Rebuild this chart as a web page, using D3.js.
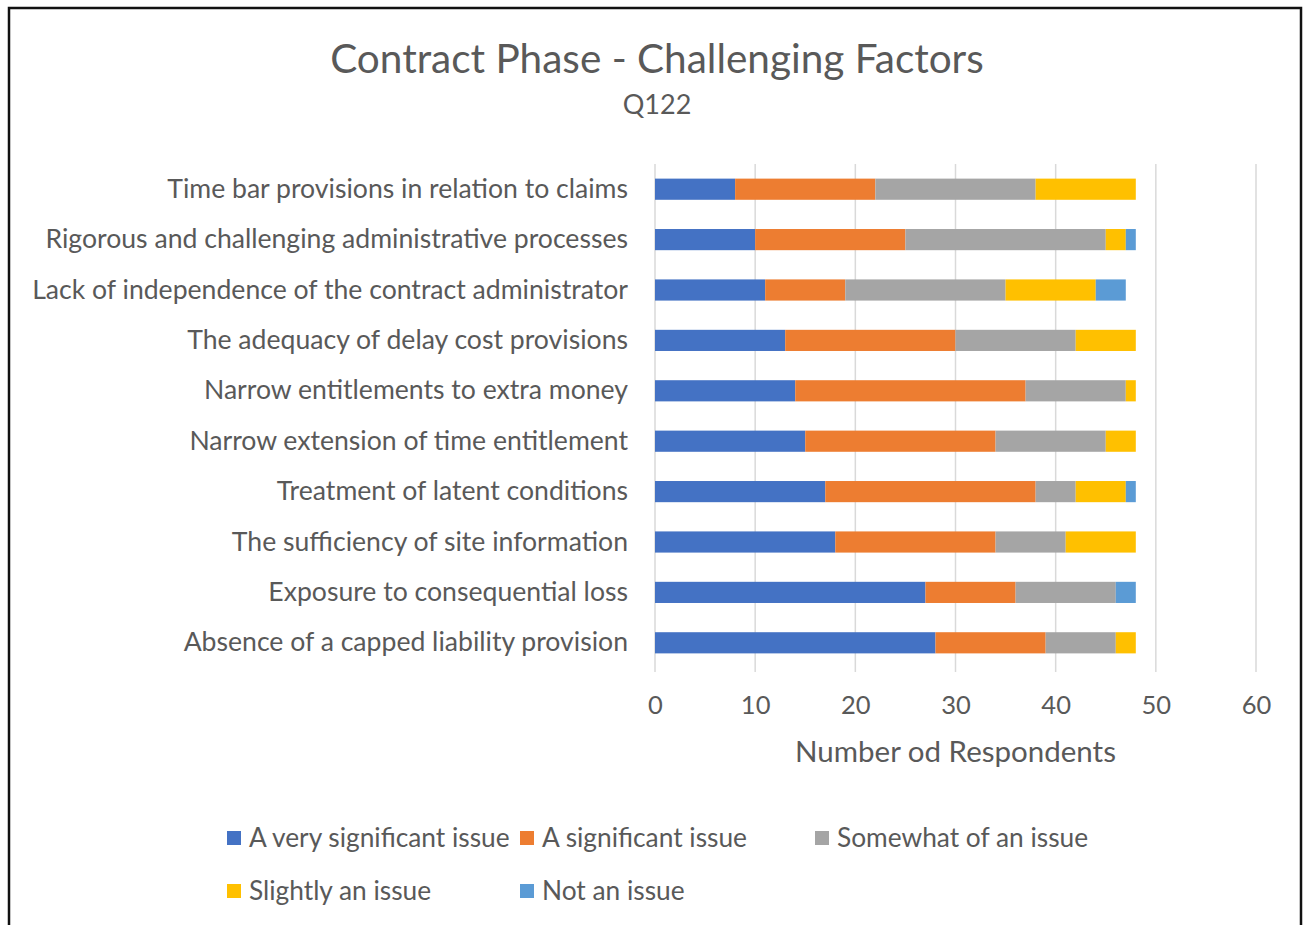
<!DOCTYPE html>
<html>
<head>
<meta charset="utf-8">
<script src="https://cdn.jsdelivr.net/npm/d3@7"></script>
<style>
  html, body { margin: 0; padding: 0; background: #fff; }
  svg { display: block; }
  text { font-family: Lato, "Open Sans", sans-serif; fill: #595959; }
</style>
</head>
<body>
<svg id="chart" width="1306" height="925"></svg>
<script>
// ---- data ----
const categories = [
  "Time bar provisions in relation to claims",
  "Rigorous and challenging administrative processes",
  "Lack of independence of the contract administrator",
  "The adequacy of delay cost provisions",
  "Narrow entitlements to extra money",
  "Narrow extension of time entitlement",
  "Treatment of latent conditions",
  "The sufficiency of site information",
  "Exposure to consequential loss",
  "Absence of a capped liability provision"
];
const seriesNames = [
  "A very significant issue",
  "A significant issue",
  "Somewhat of an issue",
  "Slightly an issue",
  "Not an issue"
];
const verySignificant = [8, 10, 11, 13, 14, 15, 17, 18, 27, 28];
const significant     = [14, 15, 8, 17, 23, 19, 21, 16, 9, 11];
const somewhat        = [16, 20, 16, 12, 10, 11, 4, 7, 10, 7];
const slightly        = [10, 2, 9, 6, 1, 3, 5, 7, 0, 2];
const notAnIssue      = [0, 1, 3, 0, 0, 0, 1, 0, 2, 0];
const xTicks = [0, 10, 20, 30, 40, 50, 60];
const seriesColors = ["#4472C4", "#ED7D31", "#A5A5A5", "#FFC000", "#5B9BD5"];

const titleText = "Contract Phase - Challenging Factors";
const subtitleText = "Q122";
const xAxisTitle = "Number od Respondents";

// ---- build table ----
const seriesValues = [verySignificant, significant, somewhat, slightly, notAnIssue];
const table = categories.map((c, i) => {
  const row = { category: c };
  seriesNames.forEach((s, j) => row[s] = seriesValues[j][i]);
  return row;
});
const stacked = d3.stack().keys(seriesNames)(table);

const svg = d3.select("#chart");

// frame
svg.append("rect")
  .attr("x", 9).attr("y", 8)
  .attr("width", 1292).attr("height", 940)
  .attr("fill", "none").attr("stroke", "#111").attr("stroke-width", 2.5);

const plot = { left: 655, right: 1256, top: 164, bottom: 668 };

const x = d3.scaleLinear().domain([0, 60]).range([plot.left, plot.right]);
const y = d3.scaleBand().domain(categories).range([plot.top, plot.bottom]).paddingInner(0.58).paddingOuter(0.29);

// gridlines
svg.append("g").selectAll("line").data(xTicks).join("line")
  .attr("x1", d => x(d)).attr("x2", d => x(d))
  .attr("y1", plot.top).attr("y2", plot.bottom + 4)
  .attr("stroke", "#d9d9d9").attr("stroke-width", 1.5);

// bars
svg.append("g").selectAll("g").data(stacked).join("g")
  .attr("fill", (d, i) => seriesColors[i])
  .selectAll("rect").data(d => d).join("rect")
  .attr("x", d => x(d[0]))
  .attr("y", d => y(d.data.category))
  .attr("width", d => x(d[1]) - x(d[0]))
  .attr("height", y.bandwidth());

// category labels
const yAxis = d3.axisLeft(y).tickSize(0).tickPadding(27);
const gy = svg.append("g").attr("transform", `translate(${plot.left},0)`).call(yAxis);
gy.select(".domain").remove();
gy.selectAll("text").style("font-size", "26.6px").attr("fill", "#595959")
  .style("font-family", "Lato, 'Open Sans', sans-serif");

// x axis tick labels
const xAxis = d3.axisBottom(x).tickValues(xTicks).tickSize(0).tickPadding(28);
const gx = svg.append("g").attr("transform", `translate(0,${plot.bottom})`).call(xAxis);
gx.select(".domain").remove();
gx.selectAll("text").style("font-size", "25.5px").attr("fill", "#595959")
  .style("font-family", "Lato, 'Open Sans', sans-serif");

// axis title
svg.append("text")
  .attr("x", (x(0) + x(60)) / 2).attr("y", 762)
  .attr("text-anchor", "middle").style("font-size", "29.5px")
  .text(xAxisTitle);

// titles
svg.append("text")
  .attr("x", 657).attr("y", 73)
  .attr("text-anchor", "middle").style("font-size", "40.5px")
  .text(titleText);
svg.append("text")
  .attr("x", 657).attr("y", 114)
  .attr("text-anchor", "middle").style("font-size", "27px")
  .text(subtitleText);

// legend
const legendPos = [
  { x: 227, y: 838 }, { x: 520, y: 838 }, { x: 815, y: 838 },
  { x: 227, y: 891 }, { x: 520, y: 891 }
];
const lg = svg.append("g").selectAll("g").data(seriesNames).join("g")
  .attr("transform", (d, i) => `translate(${legendPos[i].x},${legendPos[i].y})`);
lg.append("rect").attr("x", 0).attr("y", -7).attr("width", 14).attr("height", 14)
  .attr("fill", (d, i) => seriesColors[i]);
lg.append("text").attr("x", 22).attr("y", 9).style("font-size", "26.3px").text(d => d);
</script>
</body>
</html>
